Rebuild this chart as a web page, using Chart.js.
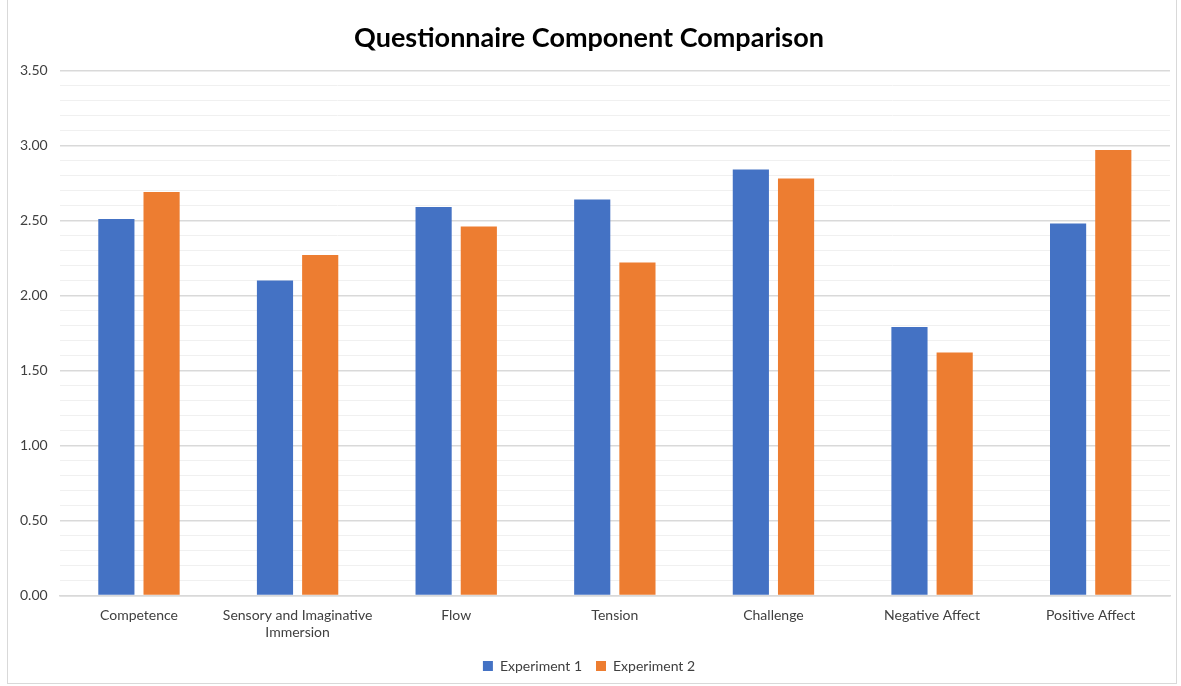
<!DOCTYPE html>
<html>
<head>
<meta charset="utf-8">
<script src="https://cdn.jsdelivr.net/npm/chart.js@4"></script>
<style>
  html, body { margin: 0; padding: 0; background: #fff; }
  #box { position: absolute; left: 7px; top: -1px; width: 1170px; height: 685px; border: 1px solid #d9d9d9; box-sizing: border-box; }
  canvas { display: block; }
</style>
</head>
<body>
<div id="box"><canvas id="myChart" width="1168" height="683"></canvas></div>
<script>
const components = ['Competence', ['Sensory and Imaginative', 'Immersion'], 'Flow', 'Tension', 'Challenge', 'Negative Affect', 'Positive Affect'];
const experiment1 = [2.51, 2.10, 2.59, 2.64, 2.84, 1.79, 2.48];
const experiment2 = [2.69, 2.27, 2.46, 2.22, 2.78, 1.62, 2.97];

document.addEventListener('DOMContentLoaded', function () {
    Chart.defaults.font.family = 'Lato, "Open Sans", sans-serif';
    Chart.defaults.color = '#595959';

    // Excel-like major (0.5) and minor (0.1) gridlines
    function isMajor(v) {
        return Math.abs(v * 2 - Math.round(v * 2)) < 1e-6;
    }

    const ctx = document.getElementById('myChart').getContext('2d');
    new Chart(ctx, {
        type: 'bar',
        data: {
            labels: components,
            datasets: [
                { label: 'Experiment 1', data: experiment1, backgroundColor: '#4472C4' },
                { label: 'Experiment 2', data: experiment2, backgroundColor: '#ED7D31' }
            ]
        },
        options: {
            responsive: false,
            animation: false,
            categoryPercentage: 0.57,
            barPercentage: 0.8,
            layout: { padding: { left: 0, right: 6, top: 6, bottom: 0 } },
            scales: {
                x: {
                    grid: { display: false },
                    border: { color: '#d9d9d9', width: 1.5 },
                    ticks: { font: { size: 14 }, color: '#404040', padding: 4, maxRotation: 0 }
                },
                y: {
                    min: 0,
                    max: 3.5,
                    border: { display: false },
                    grid: {
                        drawTicks: false,
                        color: function (c) { return isMajor(c.tick.value) ? '#d9d9d9' : '#f0f0f0'; },
                        lineWidth: function (c) { return isMajor(c.tick.value) ? 1.5 : 1; }
                    },
                    ticks: {
                        stepSize: 0.1,
                        autoSkip: false,
                        font: { size: 14 },
                        color: '#404040',
                        padding: 12,
                        callback: function (v) { return isMajor(v) ? v.toFixed(2) : ''; }
                    }
                }
            },
            plugins: {
                title: {
                    display: true,
                    text: 'Questionnaire Component Comparison',
                    color: '#000',
                    font: { size: 27, weight: 'bold' },
                    padding: { top: 16, bottom: 16 }
                },
                legend: {
                    position: 'bottom',
                    labels: { boxWidth: 10, boxHeight: 10, font: { size: 14 }, color: '#404040', padding: 14 }
                },
                tooltip: { enabled: false }
            }
        }
    });
});
</script>
</body>
</html>
